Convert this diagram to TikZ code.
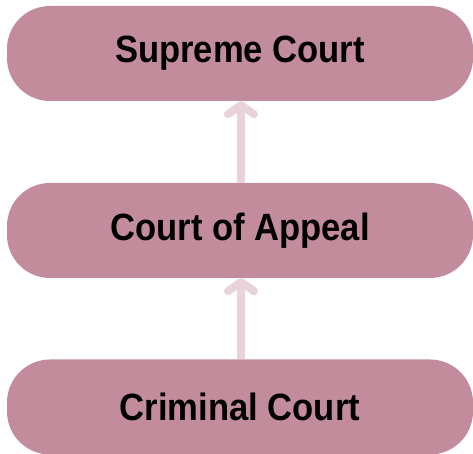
\documentclass[tikz,border=0pt]{standalone}
\usepackage{fontspec}
\setmainfont{Liberation Sans}[FakeStretch=0.91]
\usepackage{tikz}
\usetikzlibrary{arrows.meta}
\definecolor{courtfill}{RGB}{194,140,157}
\definecolor{courtarrow}{RGB}{233,210,218}
\tikzset{
	court/.style={rectangle, rounded corners=43pt, fill=courtfill,
		minimum width=466pt, minimum height=95pt, inner sep=0pt,
		font=\fontsize{38}{40}\selectfont\bfseries},
	appeal/.style={draw=courtarrow, line width=8pt,
		-{Straight Barb[length=9pt, width=26pt, round]}}
}

\begin{document}
\begin{tikzpicture}[x=1pt, y=1pt]
\useasboundingbox (0, 0) rectangle (473, 454);

\node[court] (supreme) at (240, 400.5) {Supreme Court};
\node[court] (appeal) at (240, 223.5) {Court of Appeal};
\node[court] (criminal) at (240, 47) {Criminal Court};

\draw[appeal] ([xshift=1pt]criminal.north) -- ([xshift=1pt]appeal.south);
\draw[appeal] ([xshift=1pt]appeal.north) -- ([xshift=1pt]supreme.south);
\end{tikzpicture}
\end{document}
